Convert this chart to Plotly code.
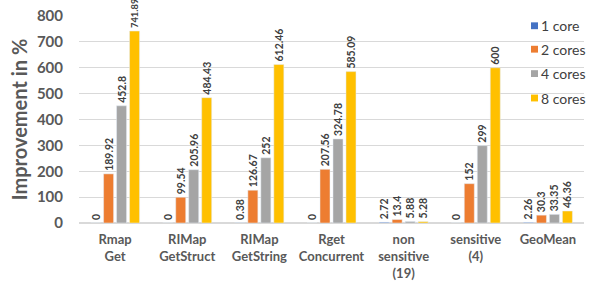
import plotly.graph_objects as go

categories = ["Rmap<br>Get", "RIMap<br>GetStruct", "RIMap<br>GetString", "Rget<br>Concurrent",
              "non<br>sensitive<br>(19)", "sensitive<br>(4)", "GeoMean"]
series_names = ["1 core", "2 cores", "4 cores", "8 cores"]
core1 = [0, 0, 0.38, 0, 2.72, 0, 2.26]
core2 = [189.92, 99.54, 126.67, 207.56, 13.4, 152, 30.3]
core4 = [452.8, 205.96, 252, 324.78, 5.88, 299, 33.35]
core8 = [741.89, 484.43, 612.46, 585.09, 5.28, 600, 46.36]
colors = ["#4472C4", "#ED7D31", "#A5A5A5", "#FFC000"]
y_ticks = [0, 100, 200, 300, 400, 500, 600, 700, 800]

FONT = "Lato, 'Open Sans', sans-serif"
L, R, T, B = 79, 6, 14, 61
W, H = 590, 287
pw, ph = W - L - R, H - T - B

fig = go.Figure()
for i, (name, vals) in enumerate(zip(series_names, [core1, core2, core4, core8])):
    # labels of very tall bars are slightly smaller so they stay inside the image
    sizes = [9.4 if v > 700 else 10.5 for v in vals]
    fig.add_trace(go.Bar(
        x=categories, y=vals, name=name, marker_color=colors[i],
        text=[f"{v:g}" for v in vals], textposition="outside", textangle=-90,
        textfont=dict(family=FONT, size=sizes, color="#404040", weight="bold"),
        constraintext="none", cliponaxis=False, showlegend=False,
        hoverinfo="skip",
    ))

# Legend (manual, to match the compact reference legend)
legend_rows_px = [24, 48, 73, 98]
for i, name in enumerate(series_names):
    yc = legend_rows_px[i]
    fig.add_shape(type="rect", xref="paper", yref="paper",
                  x0=(531 - L) / pw, x1=(538 - L) / pw,
                  y0=(H - B - (yc + 3.5)) / ph, y1=(H - B - (yc - 3.5)) / ph,
                  fillcolor=colors[i], line=dict(width=0))
    fig.add_annotation(xref="paper", yref="paper", x=(539 - L) / pw,
                       y=(H - B - yc) / ph, xanchor="left", yanchor="middle",
                       text=name, showarrow=False,
                       font=dict(family=FONT, size=14, color="#404040"))

fig.update_layout(
    width=W, height=H,
    margin=dict(l=L, r=R, t=T, b=B),
    barmode="group", bargap=0.28, bargroupgap=0.23,
    plot_bgcolor="white", paper_bgcolor="white",
    font=dict(family=FONT, color="#595959"),
    showlegend=False,
    xaxis=dict(showgrid=False, showline=False, ticks="", ticklabelstandoff=7,
               tickfont=dict(size=13, color="#595959", weight="bold")),
    yaxis=dict(range=[0, 800], tickvals=y_ticks, showgrid=True, gridcolor="#D9D9D9",
               gridwidth=1, zeroline=True, zerolinecolor="#D9D9D9", showline=False,
               tickfont=dict(size=15, color="#595959", weight="bold"),
               ticklabelstandoff=15,
               title=dict(text="Improvement in %", standoff=3,
                          font=dict(size=20, color="#595959", weight="bold"))),
)
fig.write_html("out.html", config={"displayModeBar": False},
               post_script="document.body.style.margin='0';document.body.style.overflow='hidden';")
